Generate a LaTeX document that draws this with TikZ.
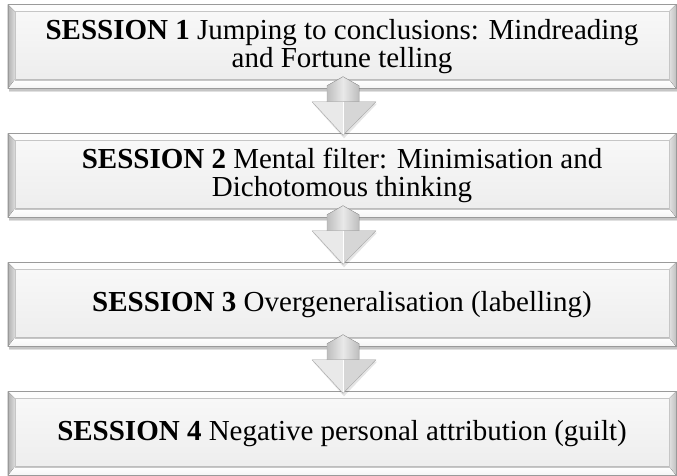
\documentclass[tikz,border=0pt]{standalone}
\usepackage{fontspec}
\setmainfont{Liberation Serif}
\usetikzlibrary{calc}
\definecolor{boxtop}{HTML}{F9F9F9}
\definecolor{boxbot}{HTML}{ECECEC}
\definecolor{edge}{HTML}{9A9A9A}
\definecolor{bevlight}{HTML}{FDFDFD}
\definecolor{bevleft}{HTML}{DCDCDC}
\definecolor{bevright}{HTML}{E2E2E2}
\definecolor{bevbottom}{HTML}{F4F4F4}
\definecolor{arrlight}{HTML}{E9E9E9}
\definecolor{arrmid}{HTML}{D6D6D6}
\definecolor{arrdark}{HTML}{BEBEBE}
\begin{document}
\begin{tikzpicture}[x=1pt,y=1pt,
  sessionbox/.style={rectangle, minimum width=668pt, minimum height=84pt,
    inner sep=0pt, align=center, font=\fontsize{29}{28}\selectfont,
    top color=boxtop, bottom color=boxbot},
  boxshadow/.style={fill=black, opacity=0.12},
  arrowline/.style={draw=gray!70, line width=0.4pt, line join=round}]
\useasboundingbox (0,0) rectangle (677,-475);

% soft shadows under the boxes
\foreach \yc in {-46.5,-175.5,-304.5,-433.5}{
  \fill[boxshadow] (9,\yc-40) rectangle (677,\yc-45);
  \fill[boxshadow] (9,\yc-42) rectangle (677,\yc-44);
}

% session boxes
\node[sessionbox] (s1) at (342,-46.5) {\textbf{SESSION 1} Jumping to conclusions: Mindreading\\and Fortune telling};
\node[sessionbox] (s2) at (342,-175.5) {\textbf{SESSION 2} Mental filter: Minimisation and\\Dichotomous thinking};
\node[sessionbox] (s3) at (342,-304.5) {\textbf{SESSION 3} Overgeneralisation (labelling)};
\node[sessionbox] (s4) at (342,-433.5) {\textbf{SESSION 4} Negative personal attribution (guilt)};

% bevelled edges of each box
\foreach \b in {s1,s2,s3,s4}{
  \fill[bevlight] (\b.north west) -- (\b.north east) -- ($(\b.north east)+(-7,-7)$) -- ($(\b.north west)+(7,-7)$) -- cycle;
  \fill[left color=bevleft!80!black, right color=bevleft] (\b.north west) -- ($(\b.north west)+(7,-7)$) -- ($(\b.south west)+(7,9)$) -- (\b.south west) -- cycle;
  \fill[left color=bevright, right color=bevright!85!black] (\b.north east) -- ($(\b.north east)+(-7,-7)$) -- ($(\b.south east)+(-7,9)$) -- (\b.south east) -- cycle;
  \fill[top color=white, bottom color=bevbottom] (\b.south west) -- ($(\b.south west)+(7,9)$) -- ($(\b.south east)+(-7,9)$) -- (\b.south east) -- cycle;
  \draw[edge, line width=0.5pt] (\b.south west) rectangle (\b.north east);
  \draw[gray!45, line width=0.4pt] ($(\b.north west)+(7,-7)$) rectangle ($(\b.south east)+(-7,9)$);
}

% down arrows between consecutive boxes
\foreach \a/\b in {s1/s2, s2/s3, s3/s4}{
  \coordinate (apex) at ($(\a.south)+(1,12)$);
  \coordinate (sl) at ($(\a.south)+(-15,3)$);
  \coordinate (sr) at ($(\a.south)+(17,3)$);
  \coordinate (bl) at ($(\a.south)+(-15,-13)$);
  \coordinate (br) at ($(\a.south)+(17,-13)$);
  \coordinate (wl) at ($(\a.south)+(-30,-13)$);
  \coordinate (wr) at ($(\a.south)+(34,-13)$);
  \coordinate (mid) at ($(\a.south)+(1,-13)$);
  \coordinate (tip) at ($(\b.north)+(1,-2)$);
  % shadow of the arrow
  \fill[black, opacity=0.10] ($(wl)+(1,-2)$) -- ($(tip)+(1,-3)$) -- ($(wr)+(1,-2)$) -- cycle;
  % shaft
  \fill[left color=arrdark, right color=arrdark, middle color=arrlight]
    (apex) -- (sr) -- (br) -- (bl) -- (sl) -- cycle;
  % head, lit from the left
  \fill[arrlight] (wl) -- (bl) -- (mid) -- (tip) -- cycle;
  \fill[arrmid] (wr) -- (br) -- (mid) -- (tip) -- cycle;
  \draw[white, line width=0.6pt] (mid) -- (tip);
  \draw[arrowline] (apex) -- (sr) -- (br) -- (wr) -- (tip) -- (wl) -- (bl) -- (sl) -- cycle;
}
\end{tikzpicture}
\end{document}
